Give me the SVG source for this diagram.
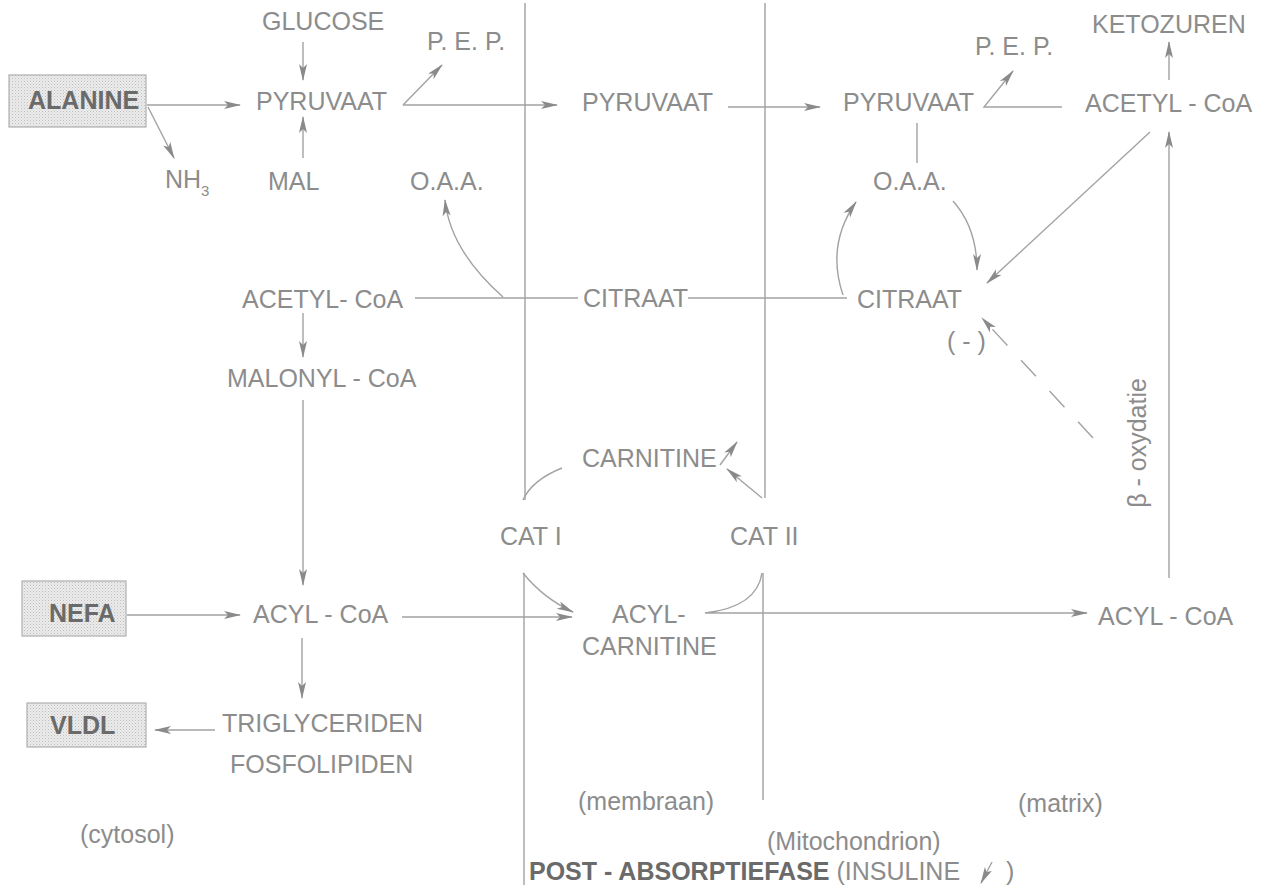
<svg xmlns="http://www.w3.org/2000/svg" width="1264" height="892" viewBox="0 0 1264 892">
<style>
text{font-family:"Liberation Sans",Arial,sans-serif;font-size:25px;fill:#8c8c8c}
.b{font-weight:bold;fill:#6a6a6a}
.ln{fill:none;stroke:#a2a2a2;stroke-width:1.4}
.ar{marker-end:url(#ah)}
.box{fill:url(#dots);stroke:#b0b0b0;stroke-width:1.2}
</style>
<defs>
<marker id="ah" markerUnits="userSpaceOnUse" markerWidth="18" markerHeight="10" refX="16" refY="5" orient="auto">
<path d="M0,1 L17,5 L0,9 L4,5 z" fill="#8a8a8a"/>
</marker>
<pattern id="dots" width="3" height="3" patternUnits="userSpaceOnUse">
<rect width="3" height="3" fill="#ececec"/>
<rect width="1" height="1" fill="#bdbdbd"/>
<rect x="1.5" y="1.5" width="1" height="1" fill="#cfcfcf"/>
</pattern>
</defs>

<g id="membranes">
<path class="ln" d="M525,3 V500 M524,573 V885 M765,3 V498 M763,573 V800"/>
</g>

<g id="connectors">
<path class="ln ar" d="M147,105 H240"/>
<path class="ln ar" d="M148,107 L174,158"/>
<path class="ln ar" d="M303,42 V80"/>
<path class="ln ar" d="M303,158 V117"/>
<path class="ln ar" d="M403,105 L442,65"/>
<path class="ln ar" d="M403,105 H557"/>
<path class="ln ar" d="M728,107 H820"/>
<path class="ln ar" d="M1062,107 H984 L1013,71"/>
<path class="ln ar" d="M1169,80 V42"/>
<path class="ln" d="M917,123 V163"/>
<path class="ln ar" d="M953,201 Q977,228 977,270"/>
<path class="ln ar" d="M843,295 Q826,245 856,202"/>
<path class="ln ar" d="M1150,132 L987,283"/>
<path class="ln ar" d="M1093,438 L982,318" stroke-dasharray="22 20"/>
<path class="ln ar" d="M1169,578 V132"/>
<path class="ln ar" d="M762,573 Q757,607 705,613 H1087"/>
<path class="ln" d="M523,500 Q532,480 562,468"/>
<path class="ln ar" d="M762,498 L727,469"/>
<path class="ln ar" d="M720,465 L737,442"/>
<path class="ln ar" d="M523,573 Q543,598 573,612"/>
<path class="ln ar" d="M402,617 H572"/>
<path class="ln ar" d="M127,615 H240"/>
<path class="ln ar" d="M303,400 V585"/>
<path class="ln ar" d="M303,313 V357"/>
<path class="ln ar" d="M302,638 V698"/>
<path class="ln ar" d="M215,730 H155"/>
<path class="ln" d="M415,298 H578"/>
<path class="ln ar" d="M503,297 Q450,250 445,200"/>
<path class="ln" d="M688,298 H847"/>
</g>

<g id="alanine"><rect class="box" x="9" y="75" width="137" height="52"/><text class="b" x="28" y="109">ALANINE</text></g>
<g id="nefa"><rect class="box" x="22" y="581" width="104" height="55"/><text class="b" x="49" y="622">NEFA</text></g>
<g id="vldl"><rect class="box" x="27" y="703" width="119" height="44"/><text class="b" x="50" y="734">VLDL</text></g>

<g id="glucose"><text x="262" y="30">GLUCOSE</text></g>
<g id="pyruvaat-cyt"><text x="256" y="110">PYRUVAAT</text></g>
<g id="pep-cyt"><text x="427" y="50">P. E. P.</text></g>
<g id="nh3"><text x="165" y="188">NH<tspan font-size="15" dy="8">3</tspan></text></g>
<g id="mal"><text x="268" y="190">MAL</text></g>
<g id="oaa-cyt"><text x="410" y="190">O.A.A.</text></g>
<g id="pyruvaat-mem"><text x="582" y="111">PYRUVAAT</text></g>
<g id="pyruvaat-mat"><text x="843" y="111">PYRUVAAT</text></g>
<g id="pep-mat"><text x="975" y="55">P. E. P.</text></g>
<g id="ketozuren"><text x="1092" y="33">KETOZUREN</text></g>
<g id="acetylcoa-mat"><text x="1085" y="112">ACETYL - CoA</text></g>
<g id="oaa-mat"><text x="873" y="190">O.A.A.</text></g>
<g id="acetylcoa-cyt"><text x="242" y="308">ACETYL- CoA</text></g>
<g id="citraat-mem"><text x="583" y="307">CITRAAT</text></g>
<g id="citraat-mat"><text x="857" y="308">CITRAAT</text></g>
<g id="inhib"><text x="947" y="350">( - )</text></g>
<g id="malonyl"><text x="227" y="387">MALONYL - CoA</text></g>
<g id="boxidatie"><text transform="translate(1146,443) rotate(-90)" text-anchor="middle">β - oxydatie</text></g>
<g id="carnitine"><text x="582" y="467">CARNITINE</text></g>
<g id="cat1"><text x="500" y="545">CAT I</text></g>
<g id="cat2"><text x="730" y="545">CAT II</text></g>
<g id="acylcoa-cyt"><text x="253" y="623">ACYL - CoA</text></g>
<g id="acylcarnitine"><text x="612" y="623">ACYL-</text><text x="582" y="655">CARNITINE</text></g>
<g id="acylcoa-mat"><text x="1098" y="625">ACYL - CoA</text></g>
<g id="triglyceriden"><text x="222" y="732">TRIGLYCERIDEN</text><text x="230" y="773">FOSFOLIPIDEN</text></g>

<g id="labels">
<text x="578" y="810">(membraan)</text>
<text x="1018" y="812">(matrix)</text>
<text x="80" y="843">(cytosol)</text>
<text x="767" y="850">(Mitochondrion)</text>
<text x="529" y="880"><tspan class="b">POST - ABSORPTIEFASE</tspan> (INSULINE</text>
<text x="1006" y="880">)</text>
<path class="ln ar" d="M992,862 L981,883" stroke-width="2"/>
</g>
</svg>
